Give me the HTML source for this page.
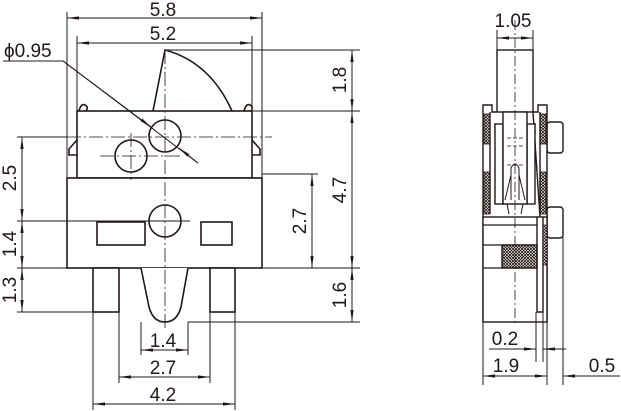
<!DOCTYPE html>
<html><head><meta charset="utf-8"><style>
html,body{margin:0;padding:0;background:#fff}
svg{display:block}
text{font-family:"Liberation Sans",sans-serif;font-size:19px;fill:#231815}
</style></head><body>
<svg width="621" height="411" viewBox="0 0 621 411" xmlns="http://www.w3.org/2000/svg">
<defs>
<pattern id="h" width="3" height="3" patternUnits="userSpaceOnUse">
<rect width="3" height="3" fill="#fff"/><path d="M0 0L3 3M3 0L0 3" stroke="#231815" stroke-width="0.8"/>
</pattern>
<marker id="a" viewBox="0 0 12 4" refX="12" refY="2" markerWidth="12" markerHeight="4" orient="auto-start-reverse" markerUnits="userSpaceOnUse">
<path d="M0 0.4L12 2L0 3.6Z" fill="#231815"/></marker>
</defs>
<!-- shapes -->
<g stroke="#231815" fill="#fff" stroke-width="1.6">
<path d="M153 111L165 50Q210 62 232 111"/>
<path d="M79 111Q81 103 85 105Q89 107 86 111M244 111Q246 103 250 105Q254 107 251 111"/>
<path d="M77 140L69 149V155H77M252 140L260 149V155H252"/>
<rect x="77" y="111" width="175" height="67"/>
<circle cx="165" cy="136" r="16" fill="none"/>
<circle cx="131" cy="156" r="16" fill="none"/>
<rect x="67" y="178" width="195" height="90"/>
<circle cx="165" cy="221" r="16" fill="none"/>
<rect x="97" y="222" width="48" height="23"/>
<rect x="201" y="222" width="31" height="23"/>
<rect x="93" y="268" width="26" height="44"/>
<rect x="210" y="268" width="25" height="44"/>
<path d="M141 268L149 307Q153 322 165 322Q177 322 181 307L188 268"/>
</g>
<g stroke="#231815" fill="none" stroke-width="1">
<path d="M67 12V178M262 12V178M77 36V111M252 36V111"/>
<line x1="67" y1="18" x2="262" y2="18" marker-start="url(#a)" marker-end="url(#a)"/>
<line x1="77" y1="43" x2="252" y2="43" marker-start="url(#a)" marker-end="url(#a)"/>
<path d="M3 61H63L198 163"/>
<line x1="63" y1="61" x2="151" y2="127" marker-end="url(#a)"/>
<line x1="198" y1="163" x2="179" y2="148" marker-end="url(#a)"/>
<path d="M166 50H360M252 111H360M262 174H318M262 268H360M188 322H360"/>
<line x1="352" y1="50" x2="352" y2="111" marker-start="url(#a)" marker-end="url(#a)"/>
<line x1="352" y1="111" x2="352" y2="268" marker-start="url(#a)" marker-end="url(#a)"/>
<line x1="312" y1="174" x2="312" y2="268" marker-start="url(#a)" marker-end="url(#a)"/>
<line x1="352" y1="268" x2="352" y2="322" marker-start="url(#a)" marker-end="url(#a)"/>
<path d="M17 137H67M17 221H190M17 268H67M17 312H93"/>
<line x1="22" y1="137" x2="22" y2="221" marker-start="url(#a)" marker-end="url(#a)"/>
<line x1="22" y1="221" x2="22" y2="268" marker-start="url(#a)" marker-end="url(#a)"/>
<line x1="22" y1="268" x2="22" y2="312" marker-start="url(#a)" marker-end="url(#a)"/>
<path d="M141 322V355M188 322V355M119 312V383M210 312V383M93 312V410M235 312V410"/>
<line x1="141" y1="350" x2="188" y2="350" marker-start="url(#a)" marker-end="url(#a)"/>
<line x1="119" y1="377" x2="210" y2="377" marker-start="url(#a)" marker-end="url(#a)"/>
<line x1="93" y1="404" x2="235" y2="404" marker-start="url(#a)" marker-end="url(#a)"/>
<path d="M165 50V330M131 133V180M67 137H272M100 156H180" stroke-dasharray="14 3 2 3" stroke-width="0.8"/>
</g>
<!-- right view -->
<g stroke="#231815" stroke-width="1.4" fill="#fff">
<rect x="547" y="122" width="16" height="31" rx="3"/>
<rect x="547" y="207" width="16" height="31" rx="3"/>
<rect x="497" y="50" width="36" height="62"/>
<path d="M483 322V105H492V112H497M533 112H538V105H547V322Z"/>
<rect x="484" y="114" width="6" height="30" fill="url(#h)" stroke-width="0.8"/>
<rect x="540" y="114" width="6" height="30" fill="url(#h)" stroke-width="0.8"/>
<rect x="484" y="172" width="6" height="42" fill="url(#h)" stroke-width="0.8"/>
<rect x="540" y="172" width="6" height="42" fill="url(#h)" stroke-width="0.8"/>
<path d="M490 112V214M540 112V214" fill="none"/>
<path d="M494 124H536M494 132H536" fill="none" stroke-width="1"/>
<rect x="495" y="124" width="8" height="80"/>
<rect x="527" y="124" width="8" height="80"/>
<rect x="503" y="112" width="24" height="92"/>
<path d="M507 138H523M507 146H523M507 165H523" stroke-dasharray="4 2" stroke-width="0.8" fill="none"/>
<path d="M511 200V168Q515 160 519 168V200M505 200L511 175M525 200L519 175M509 214L507 204M521 214L523 204" fill="none" stroke-width="1"/>
<rect x="483" y="217" width="64" height="105"/>
<path d="M537 217V312H543V217" fill="none"/>
<path d="M483 225H537M483 245H537M483 268H537" fill="none" stroke-width="1.2"/>
<rect x="502" y="245" width="35" height="23" fill="url(#h)"/>
<rect x="543" y="225" width="4" height="40" fill="url(#h)" stroke-width="0.6"/>
</g>
<g stroke="#231815" fill="none" stroke-width="1">
<path d="M497 30V50M533 30V50"/>
<line x1="497" y1="38" x2="533" y2="38" marker-start="url(#a)" marker-end="url(#a)"/>
<path d="M483 322V385M536 312V362M543 312V362M547 322V385M563 237V385"/>
<line x1="489" y1="349" x2="536" y2="349" marker-end="url(#a)"/>
<line x1="566" y1="349" x2="543" y2="349" marker-end="url(#a)"/>
<line x1="483" y1="376" x2="547" y2="376" marker-start="url(#a)" marker-end="url(#a)"/>
<line x1="620" y1="376" x2="563" y2="376" marker-end="url(#a)"/>
<path d="M515 20V325" stroke-dasharray="10 3 2 3" stroke-width="0.8"/>
</g>
<text x="163" y="16" text-anchor="middle">5.8</text>
<text x="163" y="40" text-anchor="middle">5.2</text>
<text x="4" y="57">ϕ0.95</text>
<text x="163" y="347" text-anchor="middle">1.4</text>
<text x="163" y="374" text-anchor="middle">2.7</text>
<text x="163" y="401" text-anchor="middle">4.2</text>
<text transform="translate(16,178) rotate(-90)" text-anchor="middle">2.5</text>
<text transform="translate(16,244) rotate(-90)" text-anchor="middle">1.4</text>
<text transform="translate(16,290) rotate(-90)" text-anchor="middle">1.3</text>
<text transform="translate(346,80) rotate(-90)" text-anchor="middle">1.8</text>
<text transform="translate(346,190) rotate(-90)" text-anchor="middle">4.7</text>
<text transform="translate(306,221) rotate(-90)" text-anchor="middle">2.7</text>
<text transform="translate(346,295) rotate(-90)" text-anchor="middle">1.6</text>
<text x="513" y="27" text-anchor="middle">1.05</text>
<text x="505" y="345" text-anchor="middle">0.2</text>
<text x="506" y="372" text-anchor="middle">1.9</text>
<text x="602" y="372" text-anchor="middle">0.5</text>
</svg>
</body></html>
